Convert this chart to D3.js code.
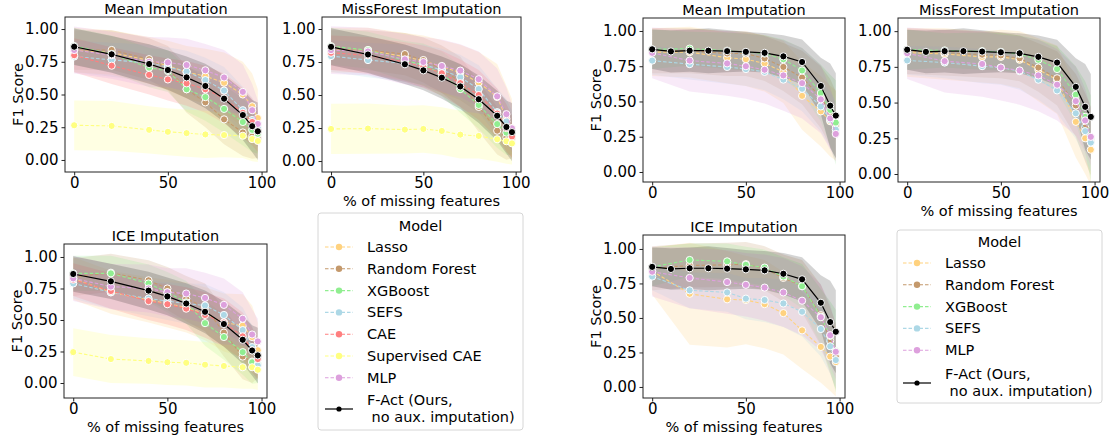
<!DOCTYPE html>
<html><head><meta charset="utf-8">
<script src="https://cdn.jsdelivr.net/npm/d3@7"></script>
<style>body{margin:0;background:#fff}svg{display:block}text{font-family:"DejaVu Sans",sans-serif;fill:#000}</style>
</head><body>
<script>
// ---------- data ----------
const leftModels = ["Lasso","Random Forest","XGBoost","SEFS","CAE","Supervised CAE","MLP"];
const rightModels = ["Lasso","Random Forest","XGBoost","SEFS","MLP"];
const factName = ["F-Act (Ours,", " no aux. imputation)"];
const colors = {"Lasso":"#FFD27F","Random Forest":"#C4996C","XGBoost":"#90EE90","SEFS":"#ADD8E6","CAE":"#FF7F7F","Supervised CAE":"#FFFF80","MLP":"#DDA0DD"};
const xMiss = [0,20,40,50,60,70,80,90,95,98];
const xMissFAct = [0,10,20,30,40,50,60,70,80,90,95,98];
const xTicks = [0,50,100];
const yTicks = [0,0.25,0.5,0.75,1];

// left group (rows follow leftModels)
const meanLeft = [
 [0.84,0.82,0.76,0.72,0.67,0.64,0.59,0.50,0.41,0.32],
 [0.84,0.84,0.77,0.70,0.54,0.44,0.31,0.21,0.18,0.165],
 [0.87,0.81,0.705,0.68,0.54,0.48,0.39,0.29,0.23,0.20],
 [0.79,0.765,0.74,0.71,0.675,0.61,0.53,0.38,0.305,0.25],
 [0.80,0.72,0.65,0.615,0.585,0.54,0.47,0.36,0.29,0.22],
 [0.265,0.26,0.23,0.215,0.205,0.195,0.19,0.185,0.16,0.145],
 [0.84,0.80,0.75,0.745,0.725,0.685,0.63,0.52,0.38,0.275]];
const missForestLeft = [
 [0.84,0.84,0.79,0.76,0.715,0.67,0.595,0.485,0.32,0.25],
 [0.84,0.84,0.81,0.765,0.695,0.60,0.41,0.23,0.18,0.17],
 [0.87,0.84,0.76,0.73,0.66,0.545,0.425,0.28,0.215,0.20],
 [0.795,0.765,0.74,0.73,0.69,0.635,0.545,0.37,0.30,0.23],
 [0.82,0.80,0.75,0.715,0.665,0.59,0.50,0.36,0.25,0.185],
 [0.243,0.246,0.238,0.243,0.228,0.20,0.19,0.165,0.15,0.134],
 [0.84,0.83,0.77,0.75,0.72,0.685,0.62,0.49,0.355,0.248]];
const iceLeft = [
 [0.83,0.72,0.66,0.63,0.60,0.55,0.48,0.455,0.365,0.26],
 [0.84,0.875,0.815,0.75,0.67,0.60,0.40,0.21,0.17,0.19],
 [0.87,0.87,0.79,0.72,0.64,0.475,0.365,0.245,0.165,0.15],
 [0.79,0.72,0.67,0.65,0.63,0.615,0.54,0.42,0.285,0.14],
 [0.82,0.73,0.65,0.625,0.59,0.54,0.48,0.37,0.26,0.19],
 [0.245,0.19,0.175,0.165,0.16,0.145,0.135,0.125,0.125,0.105],
 [0.83,0.765,0.75,0.72,0.71,0.675,0.62,0.51,0.385,0.33]];
const leftSd = [
 [0.17,0.17,0.18,0.19,0.20,0.21,0.23,0.25,0.25,0.22],
 [0.15,0.15,0.16,0.17,0.18,0.19,0.19,0.18,0.17,0.15],
 [0.14,0.14,0.15,0.16,0.17,0.18,0.18,0.18,0.17,0.15],
 [0.12,0.13,0.14,0.15,0.16,0.17,0.18,0.18,0.17,0.15],
 [0.13,0.14,0.15,0.16,0.17,0.18,0.19,0.19,0.18,0.16],
 [0.19,0.19,0.18,0.18,0.18,0.18,0.17,0.17,0.17,0.16],
 [0.18,0.18,0.19,0.19,0.20,0.20,0.21,0.21,0.20,0.18]];
const factLeft = [0.865,0.807,0.733,0.687,0.631,0.565,0.468,0.343,0.258,0.219];
const factLeftSd = [0.14,0.14,0.15,0.15,0.16,0.17,0.18,0.19,0.20,0.22];

// right group (rows follow rightModels)
const meanRight = [
 [0.85,0.85,0.81,0.80,0.77,0.71,0.54,0.43,0.36,0.33],
 [0.86,0.86,0.84,0.84,0.805,0.745,0.67,0.53,0.42,0.33],
 [0.87,0.875,0.86,0.85,0.84,0.80,0.72,0.56,0.44,0.35],
 [0.79,0.765,0.745,0.73,0.71,0.655,0.59,0.465,0.37,0.30],
 [0.845,0.79,0.77,0.75,0.725,0.685,0.63,0.515,0.38,0.27]];
const missForestRight = [
 [0.85,0.84,0.82,0.82,0.80,0.73,0.66,0.365,0.25,0.17],
 [0.86,0.85,0.835,0.83,0.81,0.745,0.67,0.48,0.325,0.23],
 [0.87,0.865,0.86,0.855,0.84,0.80,0.735,0.555,0.40,0.25],
 [0.795,0.78,0.755,0.745,0.72,0.66,0.585,0.425,0.30,0.22],
 [0.845,0.79,0.77,0.745,0.725,0.69,0.625,0.51,0.375,0.26]];
const iceRight = [
 [0.84,0.675,0.635,0.63,0.60,0.535,0.41,0.29,0.22,0.18],
 [0.86,0.88,0.885,0.89,0.86,0.79,0.73,0.52,0.335,0.22],
 [0.87,0.92,0.91,0.885,0.865,0.80,0.73,0.51,0.37,0.26],
 [0.80,0.70,0.685,0.64,0.63,0.605,0.545,0.42,0.295,0.195],
 [0.835,0.79,0.76,0.74,0.72,0.685,0.625,0.505,0.375,0.255]];
const rightSd = [
 [0.17,0.18,0.18,0.19,0.20,0.22,0.24,0.25,0.25,0.25],
 [0.16,0.16,0.16,0.16,0.16,0.17,0.19,0.22,0.24,0.24],
 [0.14,0.12,0.13,0.13,0.13,0.14,0.16,0.20,0.25,0.30],
 [0.10,0.11,0.12,0.12,0.13,0.14,0.16,0.18,0.20,0.20],
 [0.18,0.22,0.23,0.23,0.24,0.25,0.25,0.24,0.22,0.20]];
const iceRightSd = [
 [0.17,0.37,0.35,0.32,0.32,0.30,0.28,0.26,0.25,0.25],
 [0.16,0.16,0.16,0.16,0.16,0.17,0.19,0.22,0.24,0.24],
 [0.14,0.12,0.13,0.13,0.13,0.14,0.16,0.20,0.25,0.30],
 [0.10,0.13,0.14,0.15,0.16,0.17,0.18,0.20,0.20,0.20],
 [0.18,0.22,0.23,0.23,0.24,0.25,0.25,0.24,0.22,0.20]];
const factRight = [0.87,0.855,0.86,0.86,0.857,0.852,0.845,0.82,0.78,0.61,0.47,0.40];
const factRightSd = [0.14,0.15,0.15,0.16,0.15,0.14,0.14,0.15,0.16,0.20,0.30,0.30];

// ---------- layout ----------
const W = 1115, H = 439;
const panels = [
 {title:"Mean Imputation", vals:meanLeft, names:leftModels, sd:leftSd, fact:factLeft, factX:xMiss, factSd:factLeftSd, f:[65,267,17,172], yd:[-0.092,1.092], ylab:true, xlab:false},
 {title:"MissForest Imputation", vals:missForestLeft, names:leftModels, sd:leftSd, fact:factLeft, factX:xMiss, factSd:factLeftSd, f:[322,521,17,172], yd:[-0.083,1.091], ylab:false, xlab:true},
 {title:"ICE Imputation", vals:iceLeft, names:leftModels, sd:leftSd, fact:factLeft, factX:xMiss, factSd:factLeftSd, f:[64,267,244,398], yd:[-0.119,1.103], ylab:true, xlab:true},
 {title:"Mean Imputation", vals:meanRight, names:rightModels, sd:rightSd, fact:factRight, factX:xMissFAct, factSd:factRightSd, f:[643,845,18,182], yd:[-0.071,1.092], ylab:true, xlab:false},
 {title:"MissForest Imputation", vals:missForestRight, names:rightModels, sd:rightSd, fact:factRight, factX:xMissFAct, factSd:factRightSd, f:[898,1100,18,182], yd:[-0.056,1.092], ylab:false, xlab:true},
 {title:"ICE Imputation", vals:iceRight, names:rightModels, sd:iceRightSd, fact:factRight, factX:xMissFAct, factSd:factRightSd, f:[643,845,235,398], yd:[-0.080,1.101], ylab:true, xlab:true}
];

const svg = d3.select("body").append("svg").attr("width",W).attr("height",H);

panels.forEach((p,pi)=>{
  const [x0,x1,y0,y1] = p.f;
  const x = d3.scaleLinear().domain([-4.9,102.9]).range([x0,x1]);
  const y = d3.scaleLinear().domain(p.yd).range([y1,y0]);
  const clipId = "clip"+pi;
  svg.append("clipPath").attr("id",clipId).append("rect").attr("x",x0).attr("y",y0).attr("width",x1-x0).attr("height",y1-y0);
  const g = svg.append("g").attr("clip-path",`url(#${clipId})`);
  const area = d3.area().x(d=>x(d[0])).y0(d=>y(d[1]-d[2])).y1(d=>y(d[1]+d[2]));
  const line = d3.line().x(d=>x(d[0])).y(d=>y(d[1]));
  // bands
  p.names.forEach((n,i)=>{
    const pts = xMiss.map((xv,j)=>[xv,p.vals[i][j],p.sd[i][j]]);
    g.append("path").attr("d",area(pts)).attr("fill",colors[n]).attr("fill-opacity",0.22);
  });
  const fpts = p.factX.map((xv,j)=>[xv,p.fact[j],p.factSd[j]]);
  g.append("path").attr("d",area(fpts)).attr("fill","#000").attr("fill-opacity",0.17);
  // lines + markers
  p.names.forEach((n,i)=>{
    const pts = xMiss.map((xv,j)=>[xv,p.vals[i][j]]);
    g.append("path").attr("d",line(pts)).attr("fill","none").attr("stroke",colors[n]).attr("stroke-width",1.1).attr("stroke-dasharray","3.5,2");
    g.selectAll(null).data(pts).enter().append("circle").attr("cx",d=>x(d[0])).attr("cy",d=>y(d[1])).attr("r",3.6)
      .attr("fill",colors[n]).attr("stroke","#fff").attr("stroke-width",1);
  });
  const fl = p.factX.map((xv,j)=>[xv,p.fact[j]]);
  g.append("path").attr("d",line(fl)).attr("fill","none").attr("stroke","#000").attr("stroke-width",1.2);
  g.selectAll(null).data(fl).enter().append("circle").attr("cx",d=>x(d[0])).attr("cy",d=>y(d[1])).attr("r",3.6)
    .attr("fill","#000").attr("stroke","#fff").attr("stroke-width",1);
  // frame
  svg.append("rect").attr("x",x0).attr("y",y0).attr("width",x1-x0).attr("height",y1-y0)
    .attr("fill","none").attr("stroke","#222").attr("stroke-width",1);
  // axes
  const ax = d3.axisBottom(x).tickValues(xTicks).tickSize(3.5).tickPadding(1.5).tickFormat(d3.format("d"));
  const ay = d3.axisLeft(y).tickValues(yTicks).tickSize(3.5).tickPadding(3).tickFormat(d3.format(".2f"));
  const gx = svg.append("g").attr("transform",`translate(0,${y1})`).call(ax);
  const gy = svg.append("g").attr("transform",`translate(${x0},0)`).call(ay);
  [gx,gy].forEach(a=>{
    a.select(".domain").remove();
    a.selectAll("line").attr("stroke","#222");
    a.selectAll("text").attr("font-size",15).attr("font-family","DejaVu Sans").attr("fill","#000");
  });
  svg.append("text").attr("x",(x0+x1)/2).attr("y",y0-3).attr("text-anchor","middle").attr("font-size",14.5).text(p.title);
  if(p.ylab){
    svg.append("text").attr("transform",`translate(${x0-47},${(y0+y1)/2}) rotate(-90)`).attr("text-anchor","middle")
      .attr("dy","0.35em").attr("font-size",14.5).text("F1 Score");
  }
  if(p.xlab){
    svg.append("text").attr("x",(x0+x1)/2).attr("y",y1+34).attr("text-anchor","middle").attr("font-size",14.5).text("% of missing features");
  }
});

// ---------- legends ----------
function legend(names, box, titleY, rowY0, lineX0, textX, factY){
  const [bx0,bx1,by0,by1] = box;
  svg.append("rect").attr("x",bx0).attr("y",by0).attr("width",bx1-bx0).attr("height",by1-by0).attr("rx",3)
    .attr("fill","#fff").attr("stroke","#d6d6d6").attr("stroke-width",1);
  svg.append("text").attr("x",(bx0+bx1)/2).attr("y",titleY).attr("dy","0.35em").attr("text-anchor","middle").attr("font-size",14.5).text("Model");
  names.forEach((n,i)=>{
    const yy = rowY0 + i*21.8;
    svg.append("line").attr("x1",lineX0).attr("x2",lineX0+28).attr("y1",yy).attr("y2",yy)
      .attr("stroke",colors[n]).attr("stroke-width",1.1).attr("stroke-dasharray","3.5,2");
    svg.append("circle").attr("cx",lineX0+14).attr("cy",yy).attr("r",3.2).attr("fill",colors[n]);
    svg.append("text").attr("x",textX).attr("y",yy).attr("dy","0.35em").attr("font-size",14.5).text(n);
  });
  svg.append("line").attr("x1",lineX0).attr("x2",lineX0+28).attr("y1",factY+4).attr("y2",factY+4).attr("stroke","#000").attr("stroke-width",1.2);
  svg.append("circle").attr("cx",lineX0+14).attr("cy",factY+4).attr("r",2.6).attr("fill","#000");
  svg.append("text").attr("x",textX).attr("y",factY-5).attr("dy","0.35em").attr("font-size",14.5).text(factName[0]);
  svg.append("text").attr("x",textX).attr("y",factY+12).attr("dy","0.35em").attr("font-size",14.5).attr("xml:space","preserve").style("white-space","pre").text(factName[1]);
}
legend(leftModels,[318,523,213,430],226,247,325,367,405);
legend(rightModels,[897,1102,230,403],242,263,903,945,379);
</script>
</body></html>
